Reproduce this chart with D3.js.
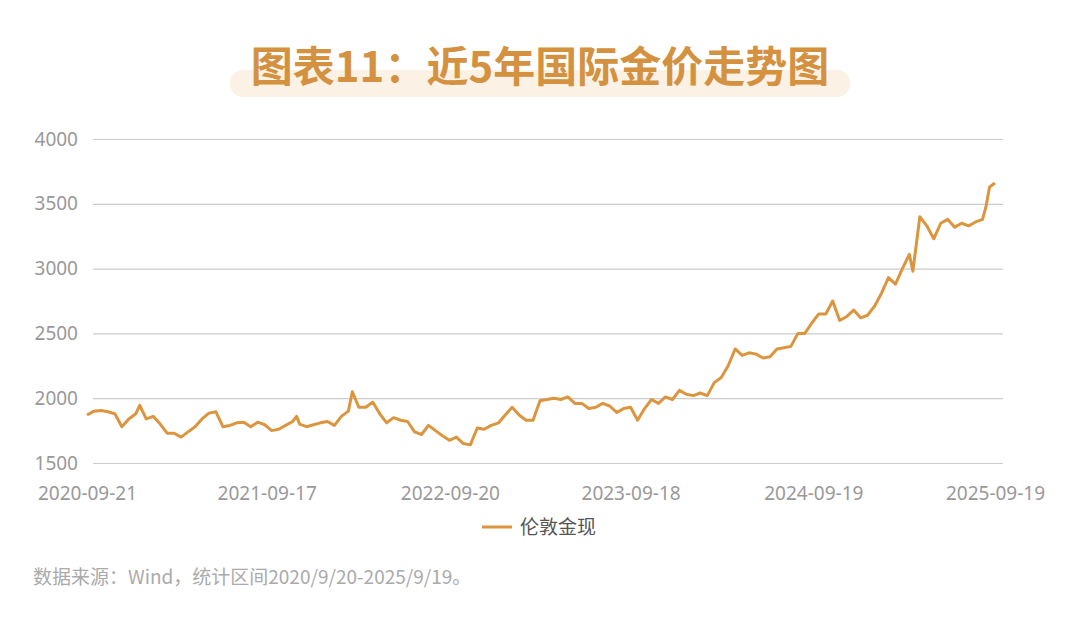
<!DOCTYPE html>
<html><head><meta charset="utf-8">
<script src="https://cdn.jsdelivr.net/npm/d3@7"></script>
<style>body{margin:0;background:#fff;font-family:"Noto Sans CJK SC","Noto Sans",sans-serif;}</style>
</head><body>
<svg id="chart" width="1080" height="630"></svg>
<script>
// biweekly London spot gold
var dates = ["2020-09-21","2020-10-05","2020-10-19","2020-11-02","2020-11-16","2020-11-30","2020-12-14","2020-12-28",
"2021-01-05","2021-01-18","2021-02-01","2021-02-15","2021-03-01","2021-03-15","2021-03-29","2021-04-12","2021-04-26","2021-05-10","2021-05-24","2021-06-07","2021-06-21","2021-07-05","2021-07-19","2021-08-02","2021-08-16","2021-08-30","2021-09-13","2021-09-27","2021-10-11","2021-10-25","2021-11-08","2021-11-16","2021-11-22","2021-12-06","2021-12-20",
"2022-01-03","2022-01-17","2022-01-31","2022-02-14","2022-02-28","2022-03-08","2022-03-21","2022-04-04","2022-04-18","2022-05-02","2022-05-16","2022-05-30","2022-06-13","2022-06-27","2022-07-11","2022-07-25","2022-08-08","2022-08-22","2022-09-05","2022-09-19","2022-10-03","2022-10-17","2022-10-31","2022-11-14","2022-11-28","2022-12-12","2022-12-27",
"2023-01-09","2023-01-23","2023-02-06","2023-02-20","2023-03-06","2023-03-20","2023-04-03","2023-04-17","2023-05-01","2023-05-15","2023-05-29","2023-06-12","2023-06-26","2023-07-10","2023-07-24","2023-08-07","2023-08-21","2023-09-04","2023-09-18","2023-10-02","2023-10-16","2023-10-30","2023-11-13","2023-11-27","2023-12-11","2023-12-25",
"2024-01-08","2024-01-22","2024-02-05","2024-02-19","2024-03-04","2024-03-18","2024-04-01","2024-04-15","2024-04-29","2024-05-13","2024-05-27","2024-06-10","2024-06-24","2024-07-08","2024-07-22","2024-08-05","2024-08-19","2024-09-02","2024-09-16","2024-09-30","2024-10-14","2024-10-28","2024-11-11","2024-11-25","2024-12-09","2024-12-23",
"2025-01-06","2025-01-20","2025-02-03","2025-02-17","2025-03-03","2025-03-17","2025-03-31","2025-04-07","2025-04-21","2025-05-05","2025-05-19","2025-06-02","2025-06-16","2025-06-30","2025-07-14","2025-07-28","2025-08-11","2025-08-25","2025-09-01","2025-09-08","2025-09-19"];
var prices = [1870,1900,1905,1895,1880,1780,1840,1880,
1945,1840,1860,1800,1730,1730,1700,1740,1780,1840,1885,1895,1780,1790,1810,1815,1780,1815,1795,1750,1760,1790,1820,1860,1800,1780,1795,
1810,1820,1790,1860,1900,2050,1930,1930,1970,1880,1810,1850,1830,1820,1740,1720,1790,1750,1710,1675,1700,1650,1640,1770,1760,1790,1810,
1870,1930,1870,1830,1830,1980,1990,2000,1990,2010,1960,1960,1920,1930,1960,1940,1890,1920,1930,1830,1920,1990,1960,2010,1990,2060,
2030,2020,2040,2020,2120,2160,2250,2380,2330,2350,2340,2310,2320,2380,2390,2400,2500,2500,2580,2650,2650,2750,2600,2630,2680,2620,
2640,2710,2810,2930,2880,3000,3110,2980,3400,3330,3230,3350,3380,3320,3350,3330,3360,3380,3480,3630,3660];
var yTicks = [1500,2000,2500,3000,3500,4000];
var xTickLabels = ["2020-09-21","2021-09-17","2022-09-20","2023-09-18","2024-09-19","2025-09-19"];
var seriesName = "伦敦金现";

var svg = d3.select("#chart");
var parse = d3.timeParse("%Y-%m-%d");
var data = dates.map(function(d, i) { return {date: parse(d), value: prices[i]}; });

// title pill
svg.append("rect").attr("x", 230).attr("y", 70).attr("width", 620).attr("height", 27)
    .attr("rx", 13).attr("fill", "#fbf1e5");
svg.append("text").attr("x", 540).attr("y", 82).attr("text-anchor", "middle")
    .attr("font-size", 42).attr("font-weight", "bold").attr("fill", "#d4913f")
    .text("图表11：近5年国际金价走势图");

var x = d3.scaleTime().domain([parse(xTickLabels[0]), parse(xTickLabels[5])]).range([87, 995]);
var y = d3.scaleLinear().domain([1500, 4000]).range([463, 139]);

var yAxis = svg.append("g").attr("transform", "translate(93,0)")
    .call(d3.axisLeft(y).tickValues(yTicks).tickSize(-910).tickFormat(d3.format("d")));
yAxis.select(".domain").remove();
yAxis.selectAll("line").attr("stroke", "#cccccc").attr("stroke-width", 1.2);
yAxis.selectAll("text").attr("x", -15).attr("font-size", 19).attr("fill", "#999")
    .attr("font-family", "Noto Sans, sans-serif");

var xAxis = svg.append("g").attr("transform", "translate(0,463)")
    .call(d3.axisBottom(x).tickValues(xTickLabels.map(parse)).tickSize(0).tickFormat(d3.timeFormat("%Y-%m-%d")));
xAxis.select(".domain").remove();
xAxis.selectAll("text").attr("dy", 0).attr("y", 37).attr("font-size", 19).attr("fill", "#999")
    .attr("font-family", "Noto Sans, sans-serif");

svg.append("path").datum(data)
    .attr("fill", "none").attr("stroke", "#dc953f").attr("stroke-width", 3).attr("stroke-linejoin", "round")
    .attr("d", d3.line().x(function(d) { return x(d.date); }).y(function(d) { return y(d.value); }));

// legend
svg.append("line").attr("x1", 482).attr("x2", 512).attr("y1", 527).attr("y2", 527)
    .attr("stroke", "#dc953f").attr("stroke-width", 3);
svg.append("text").attr("x", 520).attr("y", 534).attr("font-size", 19).attr("fill", "#555").text(seriesName);

svg.append("text").attr("x", 33).attr("y", 584).attr("font-size", 19).attr("fill", "#aaa")
    .text("数据来源：Wind，统计区间2020/9/20-2025/9/19。");
</script>
</body></html>
